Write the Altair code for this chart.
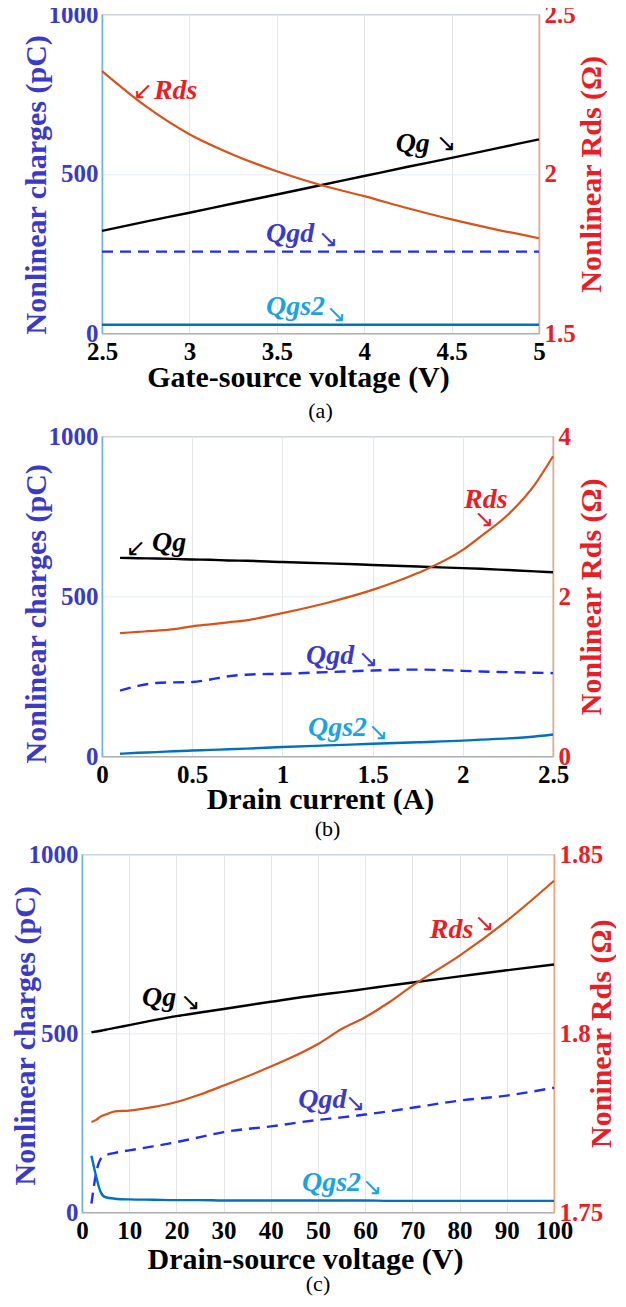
import altair as alt
import pandas as pd

SERIF = "Times New Roman, Liberation Serif, DejaVu Serif, serif"
ARROWF = "DejaVu Sans"
BLUE_T = "#3a3ac6"
RED_T = "#ec1c24"
CYAN_T = "#1aa3e0"
BLACK = "#000000"
C_RDS = "#d95319"
C_QG = "#000000"
C_QGD = "#1f2ef0"
C_QGS2 = "#0072bd"

# ---------------- panel (a): versus gate-source voltage ----------------
a_x = [2.5, 2.75, 3.0, 3.25, 3.5, 3.75, 4.0, 4.25, 4.5, 4.75, 5.0]
a_qg = [321, 350, 378, 407, 435, 464, 493, 522, 550, 579, 608]
a_qgd = [256, 256, 256, 256, 256, 256, 256, 256, 256, 256, 256]
a_qgs2 = [27, 27, 27, 27, 27, 27, 27, 27, 27, 27, 27]
a_rds = [2.322, 2.212, 2.124, 2.060, 2.008, 1.965, 1.930, 1.892, 1.857, 1.826, 1.798]
a_lab = ["Rds", "Qg", "Qgd", "Qgs2"]
a_lab_x = [2.797, 4.18, 3.438, 3.438]
a_lab_y = [759, 592, 310, 81]
a_lab_c = [RED_T, BLACK, BLUE_T, CYAN_T]
a_arr = ["↙", "↘", "↘", "↘"]
a_arr_x = [2.677, 4.411, 3.736, 3.781]
a_arr_y = [756, 592, 292, 56]

# ---------------- panel (b): versus drain current ----------------
b_x = [0.1, 0.2, 0.3, 0.4, 0.5, 0.6, 0.7, 0.8, 1.0, 1.25, 1.5, 1.75, 2.0, 2.1, 2.25, 2.4, 2.5]
b_qg = [620, 619, 618, 617, 615, 614, 612, 611, 607, 603, 598, 593, 588, 586, 582, 578, 575]
b_qgd = [205, 220, 229, 231, 232, 240, 250, 255, 258, 263, 268, 271, 267, 265, 263, 261, 260]
b_qgs2 = [8, 11, 13, 16, 18, 20, 22, 24, 29, 34, 39, 44, 49, 52, 56, 62, 68]
b_rds = [1.54, 1.555, 1.57, 1.59, 1.625, 1.65, 1.675, 1.70, 1.79, 1.92, 2.08, 2.29, 2.58, 2.75, 3.02, 3.40, 3.75]
b_lab = ["Qg", "Rds", "Qgd", "Qgs2"]
b_lab_x = [0.277, 2.007, 1.131, 1.142]
b_lab_y = [666, 802, 312, 87]
b_lab_c = [BLACK, RED_T, BLUE_T, CYAN_T]
b_arr = ["↙", "↘", "↘", "↘"]
b_arr_x = [0.133, 2.062, 1.419, 1.474]
b_arr_y = [647, 737, 300, 73]

# ---------------- panel (c): versus drain-source voltage ----------------
c_x = [2, 3, 4, 5, 7, 10, 15, 20, 25, 30, 40, 50, 55, 60, 65, 70, 80, 90, 100]
c_qg = [503, 505, 507, 510, 515, 523, 536, 548, 558, 568, 588, 607, 615, 624, 633, 642, 659, 676, 692]
c_qgd = [24, 110, 150, 159, 166, 173, 184, 196, 210, 224, 240, 258, 265, 273, 282, 292, 312, 326, 348]
c_qgs2 = [158, 100, 55, 42, 38, 36, 35, 34, 34, 33, 33, 33, 33, 33, 32, 32, 32, 32, 32]
c_rds = [1.7752, 1.7758, 1.7768, 1.7773, 1.7782, 1.7784, 1.7794, 1.7808, 1.7829, 1.7854,
         1.7907, 1.7970, 1.8012, 1.8045, 1.8086, 1.8133, 1.8217, 1.8314, 1.8426]
c_lab = ["Qg", "Rds", "Qgd", "Qgs2"]
c_lab_x = [12.7, 73.7, 45.8, 46.6]
c_lab_y = [599, 788, 315, 82]
c_lab_c = [BLACK, RED_T, BLUE_T, CYAN_T]
c_arr = ["↘", "↘", "↘", "↘"]
c_arr_x = [20.8, 83.1, 55.7, 59.3]
c_arr_y = [586, 805, 302, 68]


def panel(xs, qg, qgd, qgs2, rds, lab, lab_x, lab_y, lab_c, arr, arr_x, arr_y,
          xdom, xvals, xtitle, xtitle_x, xtitle_y, rdom, rvals, rtitle, rtitle_x,
          ltitle_x, ltitle_y, w, h, cap, cap_offset):
    df = pd.DataFrame({"x": xs, "qg": qg, "qgd": qgd, "qgs2": qgs2, "rds": rds})
    dl = pd.DataFrame({"x": lab_x, "y": lab_y, "t": lab, "c": lab_c})
    da = pd.DataFrame({"x": arr_x, "y": arr_y, "t": arr, "c": lab_c})

    X = alt.X("x:Q", scale=alt.Scale(domain=xdom, nice=False, zero=False),
              axis=alt.Axis(values=xvals, format="~r", title=xtitle, grid=True,
                            gridColor="#e6e6e6", ticks=False, domainColor="#a0a0a0",
                            labelFont=SERIF, labelFontSize=25, labelFontWeight="bold",
                            labelColor="black", labelPadding=6, labelFlush=False,
                            titleFont=SERIF, titleFontSize=30, titleFontWeight="bold",
                            titleColor="black", titleX=xtitle_x, titleY=xtitle_y,
                            titleBaseline="middle", titleAlign="center"))
    LY = alt.Axis(values=[0, 500, 1000], format="~r", title="Nonlinear charges (pC)",
                  grid=True, gridColor="#e2edf8", ticks=False, domainColor="#6db3e8",
                  domainWidth=1.5, labelFont=SERIF, labelFontSize=25,
                  labelFontWeight="bold", labelColor=BLUE_T, labelPadding=4,
                  titleFont=SERIF, titleFontSize=30, titleFontWeight="bold",
                  titleColor=BLUE_T, titleAngle=270, titleBaseline="bottom",
                  titleAlign="center", titleX=ltitle_x, titleY=ltitle_y)
    ysc = alt.Scale(domain=[0, 1000], nice=False, zero=False)

    def ly(f):
        return alt.Y(f + ":Q", scale=ysc, axis=LY)

    base = alt.Chart(df)
    l_qg = base.mark_line(color=C_QG, strokeWidth=2.4, interpolate="monotone").encode(x=X, y=ly("qg"))
    l_qgd = base.mark_line(color=C_QGD, strokeWidth=2.4, strokeDash=[11, 7],
                           interpolate="monotone").encode(x=X, y=ly("qgd"))
    l_qgs2 = base.mark_line(color=C_QGS2, strokeWidth=2.4, interpolate="monotone").encode(x=X, y=ly("qgs2"))
    t_lab = alt.Chart(dl).mark_text(align="left", baseline="middle", font=SERIF,
                                    fontSize=28, fontWeight="bold", fontStyle="italic").encode(
        x=X, y=ly("y"), text="t:N", color=alt.Color("c:N", scale=None))
    t_arr = alt.Chart(da).mark_text(align="left", baseline="middle", font=ARROWF,
                                    fontSize=24).encode(
        x=X, y=ly("y"), text="t:N", color=alt.Color("c:N", scale=None))
    left = alt.layer(l_qg, l_qgd, l_qgs2, t_lab, t_arr)

    RY = alt.Axis(orient="right", values=rvals, format="~r", title=rtitle, grid=False,
                  ticks=False, domainColor="#f4a27f", domainWidth=1.5,
                  labelFont=SERIF, labelFontSize=25, labelFontWeight="bold",
                  labelColor=RED_T, labelPadding=5,
                  titleFont=SERIF, titleFontSize=30, titleFontWeight="bold",
                  titleColor=RED_T, titleAngle=270, titleBaseline="top",
                  titleAlign="center", titleX=rtitle_x, titleY=h / 2)
    l_rds = base.mark_line(color=C_RDS, strokeWidth=2.2, interpolate="monotone").encode(
        x=X, y=alt.Y("rds:Q", scale=alt.Scale(domain=rdom, nice=False, zero=False), axis=RY))

    return alt.layer(left, l_rds).resolve_scale(y="independent").properties(
        width=w, height=h,
        title=alt.TitleParams(cap, orient="bottom", font=SERIF, fontSize=22,
                              fontWeight="normal", color="black", offset=cap_offset,
                              anchor="middle", frame="group"))


def spacer(w):
    # empty, invisible view used only to indent a panel horizontally
    return alt.Chart(pd.DataFrame({"s": [0]})).mark_point(opacity=0).encode(
        x=alt.value(0), y=alt.value(0)).properties(
        width=w, height=1, view=alt.ViewBackground(strokeOpacity=0))


pa = panel(a_x, a_qg, a_qgd, a_qgs2, a_rds, a_lab, a_lab_x, a_lab_y, a_lab_c,
           a_arr, a_arr_x, a_arr_y, [2.5, 5], [2.5, 3, 3.5, 4, 4.5, 5],
           "Gate-source voltage (V)", 196, 44, [1.5, 2.5], [1.5, 2, 2.5],
           "Nonlinear Rds (Ω)", 38, -51, 170, 437, 319, "(a)", 9)
pb = panel(b_x, b_qg, b_qgd, b_qgs2, b_rds, b_lab, b_lab_x, b_lab_y, b_lab_c,
           b_arr, b_arr_x, b_arr_y, [0, 2.5], [0, 0.5, 1, 1.5, 2, 2.5],
           "Drain current (A)", 218, 43, [0, 4], [0, 2, 4],
           "Nonlinear Rds (Ω)", 24, -51, 177, 451, 320, "(b)", 5)
pc = panel(c_x, c_qg, c_qgd, c_qgs2, c_rds, c_lab, c_lab_x, c_lab_y, c_lab_c,
           c_arr, c_arr_x, c_arr_y, [0, 100], [0, 10, 20, 30, 40, 50, 60, 70, 80, 90, 100],
           "Drain-source voltage (V)", 223, 47, [1.75, 1.85], [1.75, 1.8, 1.85],
           "Noninear Rds (Ω)", 33, -42, 181, 472, 358, "(c)", 0)

row_a = alt.hconcat(spacer(19), pa, spacing=0)
row_b = alt.hconcat(spacer(19), pb, spacing=0)
row_c = alt.hconcat(spacer(8), pc, spacing=0)

chart = alt.vconcat(row_a, row_b, row_c, spacing=0).properties(
    padding={"left": -10, "top": -6.7, "right": -2, "bottom": 0}
).configure_view(stroke="#a0a0a0", strokeWidth=1.2)

chart.save("out.html", embed_options={"renderer": "svg", "actions": False})
